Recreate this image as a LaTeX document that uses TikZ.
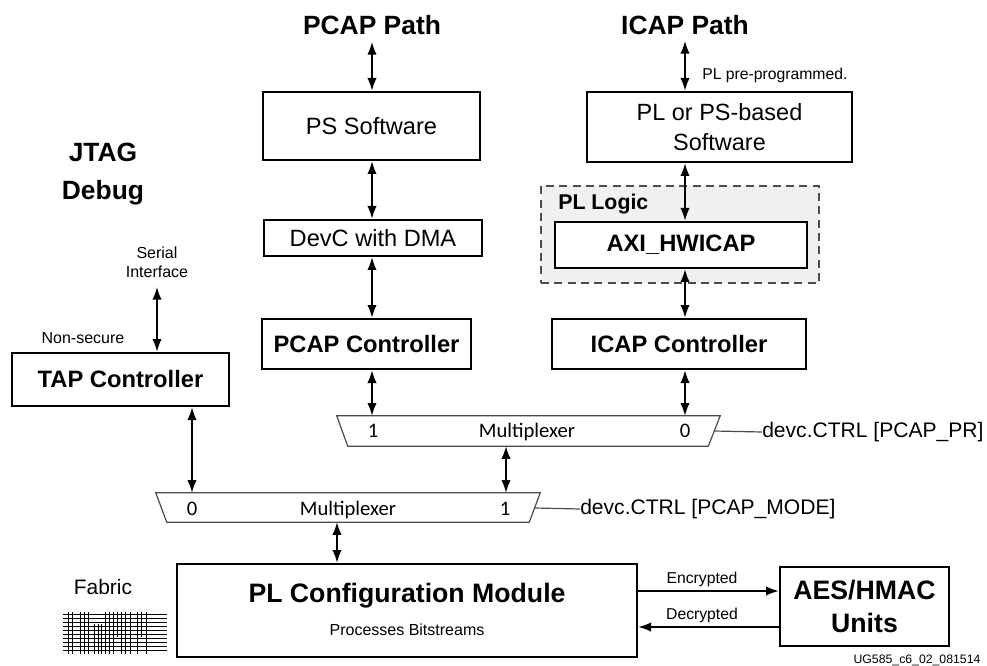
\documentclass[tikz,border=0pt]{standalone}
\usepackage{fontspec}
\setmainfont{Liberation Sans}
\newfontfamily\muxfont{Carlito}
\usetikzlibrary{arrows.meta,calc}
\newcommand\fsz[2]{\fontsize{#1}{#2}\selectfont}
\begin{document}
\begin{tikzpicture}[x=0.75pt,y=-0.75pt,
  box/.style={draw,line width=2pt,inner sep=0pt,align=center,fill=white},
  sz/.style 2 args={minimum width=#1*0.75pt,minimum height=#2*0.75pt},
  tip/.tip={Latex[length=9.5pt,width=7pt]},
  link/.style={line width=1.1pt,tip-tip},
  one/.style={line width=1.1pt,-tip},
  muxline/.style={draw=black!70,line width=0.9pt,fill=white},
  muxtxt/.style={font=\muxfont\fsz{15.5pt}{18pt},inner sep=0pt,anchor=base},
  ctrltxt/.style={font=\fsz{15.8pt}{19pt},inner sep=0pt,anchor=west},
  title/.style={font=\bfseries\fsz{19.8pt}{27pt},inner sep=0pt,align=center},
  small/.style={font=\fsz{12pt}{14.5pt},inner sep=0pt,align=center},
  plain/.style={font=\fsz{17.7pt}{22.5pt}},
  bold/.style={font=\bfseries\fsz{17.8pt}{22pt}}
]
\useasboundingbox (0,0) rectangle (987,666);

% titles
\node[title] (pcaptitle) at (372,25) {PCAP Path};
\node[title] (icaptitle) at (685,25) {ICAP Path};
\node[title,font=\bfseries\fsz{19.8pt}{28pt}] (jtag) at (103,174) {JTAG\\Debug};
\coordinate (pcapTop) at (372,42);
\coordinate (icapTop) at (685,41);

% PL logic region
\node[draw=black!70,dashed,dash pattern=on 6pt off 4pt,line width=1pt,fill=black!6,sz={278}{97},inner sep=0pt] (pllogic) at (680,234.5) {};
\node[font=\bfseries\fsz{16pt}{19pt},inner sep=0pt,anchor=west] (pllogictxt) at (558,204) {PL Logic};

% boxes
\node[box,plain,sz={217}{68}] (ps) at (371.5,126) {PS Software};
\node[box,plain,sz={218}{36}] (devc) at (373,238) {DevC with DMA};
\node[box,bold,sz={209}{50}] (pcapc) at (366.5,344) {PCAP Controller};
\node[box,font=\fsz{17.6pt}{22.5pt},sz={265}{70}] (plsw) at (719.5,127) {PL or PS-based\\Software};
\node[box,bold,sz={252}{46}] (axi) at (681,245) {AXI\_HWICAP};
\node[box,bold,sz={254}{50}] (icapc) at (679,344) {ICAP Controller};
\node[box,bold,sz={217}{53}] (tap) at (120.5,379.5) {TAP Controller};
\node[box,sz={460}{93}] (plcm) at (407,610.5) {};
\node[font=\bfseries\fsz{20pt}{24pt},inner sep=0pt] (plcmtitle) at (407,596) {PL Configuration Module};
\node[font=\fsz{12pt}{14pt},inner sep=0pt] (plcmsub) at (407,630) {Processes Bitstreams};
\node[box,font=\bfseries\fsz{20pt}{24.75pt},sz={169}{79}] (aes) at (864.5,606.5) {AES/HMAC\\Units};

% multiplexers
\node[inner sep=0pt,sz={383}{30}] (mux1) at (528.5,431) {};
\draw[muxline] (mux1.north west) -- (mux1.north east) -- ($(mux1.south east)+(-12,0)$) -- ($(mux1.south west)+(11,0)$) -- cycle;
\node[muxtxt] (m1a) at (373,437.5) {1};
\node[muxtxt] (m1b) at (527,437.5) {Multiplexer};
\node[muxtxt] (m1c) at (685,437.5) {0};
\coordinate (c1a) at (714,431);
\node[ctrltxt] (ctrl1) at (762,432) {devc.CTRL [PCAP\_PR]};
\draw[black!70,line width=0.9pt] (c1a) -- (ctrl1.west);

\node[inner sep=0pt,sz={384}{29}] (mux2) at (348,507.5) {};
\draw[muxline] (mux2.north west) -- (mux2.north east) -- ($(mux2.south east)+(-11,0)$) -- ($(mux2.south west)+(11,0)$) -- cycle;
\node[muxtxt] (m2a) at (192,515) {0};
\node[muxtxt] (m2b) at (348,515) {Multiplexer};
\node[muxtxt] (m2c) at (505,515) {1};
\coordinate (c2a) at (535,508);
\node[ctrltxt] (ctrl2) at (580,509) {devc.CTRL [PCAP\_MODE]};
\draw[black!70,line width=0.9pt] (c2a) -- (ctrl2.west);

% column coordinates
\coordinate (cP) at (372,0);
\coordinate (cI) at (685,0);
\coordinate (cM) at (506,0);
\coordinate (cJ) at (192,0);
\coordinate (cC) at (337,0);

% connectors PCAP
\draw[link] (pcapTop) -- (ps.north -| pcapTop);
\draw[link] (ps.south -| cP) -- (devc.north -| cP);
\draw[link] (devc.south -| cP) -- (pcapc.north -| cP);
\draw[link] (pcapc.south -| cP) -- (mux1.north -| cP);
% ICAP
\draw[link] (icapTop) -- (plsw.north -| icapTop);
\node[font=\fsz{11.8pt}{13pt},inner sep=0pt,anchor=west] (preprog) at (702,75) {PL pre-programmed.};
\draw[link] (plsw.south -| cI) -- (axi.north -| cI);
\draw[link] (axi.south -| cI) -- (icapc.north -| cI);
\draw[link] (icapc.south -| cI) -- (mux1.north -| cI);
% mux chain
\draw[link] (mux1.south -| cM) -- (mux2.north -| cM);
% JTAG
\node[small] (serial) at (157,262) {Serial\\Interface};
\node[small] (nonsec) at (83,338) {Non-secure};
\coordinate (serialEnd) at (157,287);
\draw[link] (serialEnd) -- (tap.north -| serialEnd);
\draw[link] (tap.south -| cJ) -- (mux2.north -| cJ);
\draw[link] (mux2.south -| cC) -- (plcm.north -| cC);

% encryption
\coordinate (encY) at (0,591);
\coordinate (decY) at (0,627);
\draw[one] (plcm.east |- encY) -- (aes.west |- encY);
\draw[one] (aes.west |- decY) -- (plcm.east |- decY);
\node[font=\fsz{11.8pt}{14pt},inner sep=0pt] (enc) at (702,579) {Encrypted};
\node[font=\fsz{11.8pt}{14pt},inner sep=0pt] (dec) at (702,615) {Decrypted};

% fabric
\node[font=\fsz{15.7pt}{18pt},inner sep=0pt] (fabric) at (103,587) {Fabric};
\begin{scope}[line width=0.6pt]
  \foreach \yy in {614,618,622,626,630,634,638,642,646,650}
    \draw (63,\yy) -- (167,\yy);
  \foreach \xx in {68,72,80,84,88,105,109,113,121,125,130,137,146}
    \draw (\xx,612) -- (\xx,654);
  \foreach \xx in {94,98,101}
    \draw (\xx,624) -- (\xx,654);
  \foreach \xx in {117,141}
    \draw (\xx,612) -- (\xx,637);
\end{scope}

\node[font=\fsz{9.2pt}{11pt},inner sep=0pt] (ugid) at (917,660) {UG585\_c6\_02\_081514};
\end{tikzpicture}
\end{document}
